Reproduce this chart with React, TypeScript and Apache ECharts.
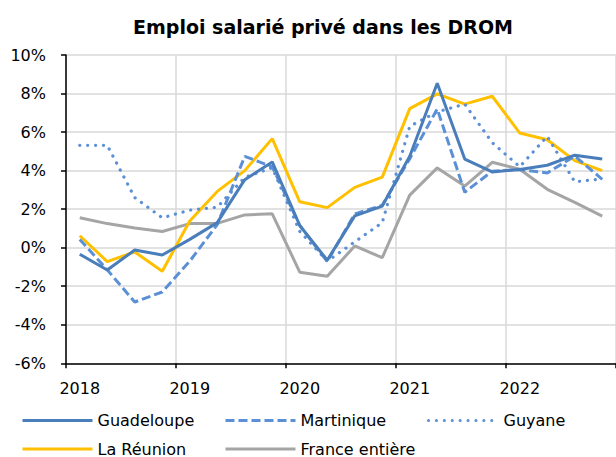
import React, { useEffect, useRef } from "react";
import * as echarts from "echarts";

const categories = [
  "2018T1", "2018T2", "2018T3", "2018T4",
  "2019T1", "2019T2", "2019T3", "2019T4",
  "2020T1", "2020T2", "2020T3", "2020T4",
  "2021T1", "2021T2", "2021T3", "2021T4",
  "2022T1", "2022T2", "2022T3", "2022T4",
];

const guadeloupe = [-0.34, -1.16, -0.12, -0.38, 0.43, 1.3, 3.53, 4.45, 1.15, -0.65, 1.65, 2.16, 4.75, 8.53, 4.6, 3.93, 4.06, 4.28, 4.8, 4.6];
const martinique = [0.43, -1.15, -2.82, -2.3, -0.7, 1.2, 4.74, 4.2, 1.15, -0.72, 1.75, 2.2, 4.62, 7.2, 2.88, 3.97, 4.05, 3.88, 4.75, 3.55];
const guyane = [5.31, 5.31, 2.6, 1.55, 1.95, 2.1, 3.65, 4.15, 0.85, -0.7, 0.3, 1.3, 6.3, 7.05, 7.45, 5.45, 4.2, 5.78, 3.42, 3.57];
const reunion = [0.62, -0.72, -0.22, -1.22, 1.38, 2.92, 4.0, 5.66, 2.38, 2.08, 3.13, 3.66, 7.22, 7.98, 7.45, 7.86, 5.95, 5.6, 4.52, 4.0];
const france = [1.55, 1.25, 1.02, 0.84, 1.25, 1.26, 1.7, 1.76, -1.27, -1.48, 0.09, -0.52, 2.73, 4.14, 3.2, 4.43, 4.07, 3.03, 2.35, 1.64];

const yTicks = { min: -6, max: 10, interval: 2 };
const title = "Emploi salarié privé dans les DROM";

const FONT = "DejaVu Sans";

export default function App() {
  const ref = useRef<HTMLDivElement>(null);
  useEffect(() => {
    if (!ref.current) return;
    const chart = echarts.init(ref.current, undefined, { renderer: "svg" });
    const mkLegend = (name: string, left: number, top: number) => ({
      data: [name],
      left,
      top,
      padding: 0,
      itemWidth: 70,
      itemHeight: 16,
      selectedMode: false,
      itemStyle: { opacity: 0 },
      lineStyle: { width: 3 },
      textStyle: { fontSize: 16, lineHeight: 16, color: "#000", fontFamily: FONT },
    });
    const mkSeries = (name: string, data: number[], color: string, type: any, width: number, cap: any = "butt") => ({
      name,
      type: "line",
      data,
      xAxisIndex: 0,
      symbol: "none",
      showSymbol: false,
      lineStyle: { color, width, type, cap },
      itemStyle: { color },
    });
    chart.setOption({
      animation: false,
      textStyle: { fontFamily: FONT },
      title: {
        text: title,
        left: 133,
        top: 17.5,
        padding: 0,
        textStyle: { fontSize: 19, fontWeight: "bold", color: "#000", fontFamily: FONT },
      },
      legend: [
        mkLegend("Guadeloupe", 21, 412.5),
        mkLegend("Martinique", 224, 412.5),
        mkLegend("Guyane", 427, 412.5),
        mkLegend("La Réunion", 21, 441),
        mkLegend("France entière", 224, 441),
      ],
      grid: { left: 66, top: 55, width: 552, height: 308.3 },
      xAxis: [
        {
          type: "category",
          data: categories,
          boundaryGap: true,
          position: "bottom",
          axisLine: { show: false },
          axisTick: { show: false },
          axisLabel: {
            interval: 3,
            formatter: (v: string) => v.slice(0, 4),
            fontSize: 16,
            color: "#000",
            fontFamily: FONT,
            margin: 17,
          },
          splitLine: { show: true, interval: 3, lineStyle: { color: "#D9D9D9", width: 1.5 } },
        },
        {
          type: "category",
          data: categories,
          boundaryGap: true,
          position: "bottom",
          axisLine: { show: true, onZero: true, lineStyle: { color: "#000", width: 1.5 } },
          axisTick: { show: true, interval: 3, length: 5, lineStyle: { color: "#000", width: 1.5 } },
          axisLabel: { show: false },
          splitLine: { show: false },
        },
      ],
      yAxis: {
        type: "value",
        min: yTicks.min,
        max: yTicks.max,
        interval: yTicks.interval,
        axisLine: { show: true, onZero: false, lineStyle: { color: "#000", width: 1.5 } },
        axisTick: { show: true, length: 5, lineStyle: { color: "#000", width: 1.5 } },
        axisLabel: { formatter: "{value}%", fontSize: 16, color: "#000", fontFamily: FONT, margin: 20 },
        splitLine: { show: true, lineStyle: { color: "#D9D9D9", width: 1.5 } },
      },
      series: [
        mkSeries("France entière", france, "#A5A5A5", "solid", 3),
        mkSeries("La Réunion", reunion, "#FFC000", "solid", 3),
        mkSeries("Guyane", guyane, "#5B8FD6", [0.1, 7.8], 3.2, "round"),
        mkSeries("Martinique", martinique, "#5B8FD6", [9, 4], 3),
        mkSeries("Guadeloupe", guadeloupe, "#4A7EBB", "solid", 3),
      ],
    });
    return () => chart.dispose();
  }, []);
  return (
    <div
      ref={ref}
      style={{ position: "absolute", left: 0, top: 0, width: 616, height: 457, background: "#fff" }}
    />
  );
}
